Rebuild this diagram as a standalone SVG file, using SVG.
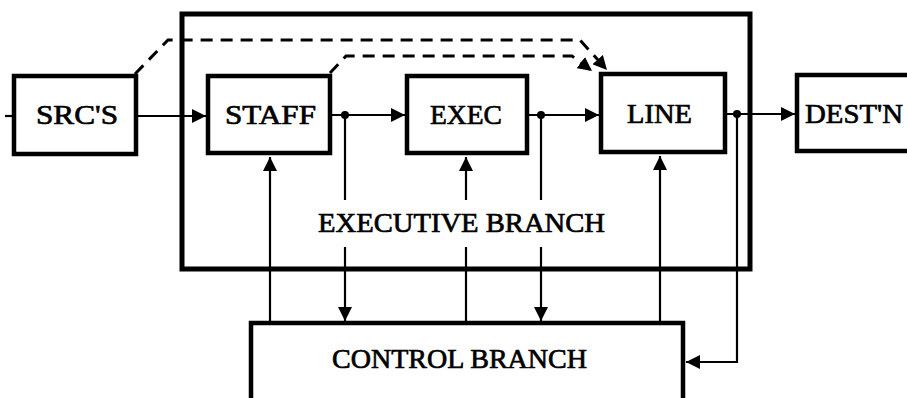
<svg xmlns="http://www.w3.org/2000/svg" width="907" height="398" viewBox="0 0 907 398">
<style>
.box{fill:#fff;stroke:#000;stroke-width:4.5}
.frame{fill:none;stroke:#000;stroke-width:5}
.ln{fill:none;stroke:#000;stroke-width:2.2}
.dash{fill:none;stroke:#000;stroke-width:3;stroke-dasharray:12 8}
.t{font-family:"Liberation Serif","DejaVu Serif",serif;font-size:28px;fill:#000;stroke:#000;stroke-width:0.7}
</style>
<defs>
<marker id="ah" viewBox="0 0 12 12" refX="12" refY="6" markerWidth="14" markerHeight="14" markerUnits="userSpaceOnUse" orient="auto">
<path d="M0,0 L12,6 L0,12 Z" fill="#000"/>
</marker>
</defs>
<g id="executive-branch">
<rect class="frame" x="182" y="14" width="568" height="255"/>
</g>
<g id="control-branch">
<rect class="box" x="251" y="323" width="432" height="90"/>
<text class="t" x="332" y="368" textLength="255" lengthAdjust="spacingAndGlyphs">CONTROL BRANCH</text>
</g>
<g id="connectors">
<line class="ln" x1="5" y1="116" x2="14" y2="116"/>
<line class="ln" x1="136" y1="116" x2="206" y2="116" marker-end="url(#ah)"/>
<line class="ln" x1="330" y1="115" x2="405" y2="115" marker-end="url(#ah)"/>
<line class="ln" x1="527" y1="115" x2="599" y2="115" marker-end="url(#ah)"/>
<line class="ln" x1="725" y1="114" x2="795" y2="114" marker-end="url(#ah)"/>
<circle cx="345" cy="115" r="4"/>
<circle cx="541" cy="115" r="4"/>
<circle cx="737" cy="114" r="4"/>
<line class="ln" x1="270" y1="323" x2="270" y2="157" marker-end="url(#ah)"/>
<line class="ln" x1="345" y1="115" x2="345" y2="321" marker-end="url(#ah)"/>
<line class="ln" x1="466" y1="323" x2="466" y2="157" marker-end="url(#ah)"/>
<line class="ln" x1="541" y1="115" x2="541" y2="321" marker-end="url(#ah)"/>
<line class="ln" x1="660" y1="323" x2="660" y2="156" marker-end="url(#ah)"/>
<polyline class="ln" points="737,114 737,362 686,362" marker-end="url(#ah)"/>
<polyline class="dash" points="135,74 168,40 580,40 607,70" marker-end="url(#ah)"/>
<polyline class="dash" points="330,73 346,56 572,56 592,71" marker-end="url(#ah)"/>
</g>
<g id="exec-label">
<rect x="316" y="200" width="292" height="47" fill="#fff"/>
<text class="t" x="318" y="232" textLength="287" lengthAdjust="spacingAndGlyphs">EXECUTIVE BRANCH</text>
</g>
<g id="srcs">
<rect class="box" x="14" y="76" width="122" height="78"/>
<text class="t" x="36" y="124" textLength="82" lengthAdjust="spacingAndGlyphs">SRC'S</text>
</g>
<g id="staff">
<rect class="box" x="208" y="76" width="122" height="77"/>
<text class="t" x="225" y="124" textLength="91" lengthAdjust="spacingAndGlyphs">STAFF</text>
</g>
<g id="exec">
<rect class="box" x="407" y="76" width="120" height="77"/>
<text class="t" x="430" y="124" textLength="72" lengthAdjust="spacingAndGlyphs">EXEC</text>
</g>
<g id="line">
<rect class="box" x="601" y="74" width="124" height="78"/>
<text class="t" x="627" y="123" textLength="65" lengthAdjust="spacingAndGlyphs">LINE</text>
</g>
<g id="destn">
<rect class="box" x="797" y="75" width="130" height="76"/>
<text class="t" x="805" y="123" textLength="98" lengthAdjust="spacingAndGlyphs">DEST'N</text>
</g>
</svg>
